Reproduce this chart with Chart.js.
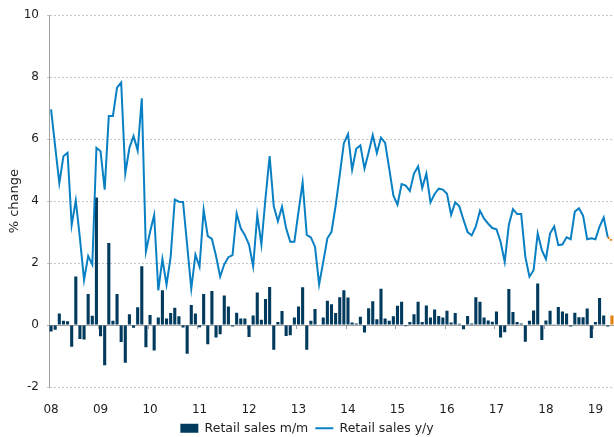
<!DOCTYPE html>
<html>
<head>
<meta charset="utf-8">
<script src="https://cdn.jsdelivr.net/npm/chart.js@4"></script>
<style>
    html, body { margin: 0; padding: 0; background: #fff; }
    .m-chart { position: relative; width: 614px; height: 437px; }
</style>
</head>
<body>
<div class="m-chart"><canvas id="myChart"></canvas></div>
<script>
// monthly, Jan 2008 .. May 2019
const months = [];
for (let y = 2008; y <= 2019; y++) {
    for (let m = 1; m <= 12; m++) {
        if (y === 2019 && m > 5) break;
        months.push(y + '-' + (m < 10 ? '0' + m : m));
    }
}
const yearLabels = ['08', '09', '10', '11', '12', '13', '14', '15', '16', '17', '18', '19'];

// Retail sales m/m (%)
const salesMoM = [
    -0.21, -0.15, 0.37, 0.14, 0.12, -0.70, 1.57, -0.45, -0.47, 1.00, 0.30, 4.12,
    -0.36, -1.30, 2.65, 0.14, 1.00, -0.55, -1.22, 0.35, -0.09, 0.57, 1.90, -0.72,
    0.32, -0.82, 0.24, 1.12, 0.21, 0.39, 0.56, 0.28, -0.08, -0.93, 0.65, 0.37,
    -0.07, 1.00, -0.62, 1.10, -0.40, -0.30, 0.95, 0.60, -0.05, 0.40, 0.21, 0.21,
    -0.39, 0.31, 1.05, 0.17, 0.84, 1.23, -0.80, 0.10, 0.45, -0.35, -0.33, 0.24,
    0.60, 1.22, -0.80, 0.14, 0.52, 0.02, 0.24, 0.78, 0.67, 0.39, 0.90, 1.12,
    0.89, 0.08, 0.05, 0.27, -0.24, 0.54, 0.77, 0.19, 1.17, 0.21, 0.14, 0.28,
    0.62, 0.75, -0.04, 0.10, 0.35, 0.75, 0.10, 0.63, 0.24, 0.50, 0.29, 0.24,
    0.46, 0.08, 0.39, 0.04, -0.14, 0.29, 0.05, 0.90, 0.75, 0.24, 0.15, 0.11,
    0.44, -0.40, -0.23, 1.16, 0.42, 0.10, 0.05, -0.54, 0.14, 0.47, 1.34, -0.48,
    0.15, 0.46, 0.01, 0.58, 0.44, 0.37, -0.05, 0.40, 0.25, 0.25, 0.53, -0.42,
    0.10, 0.87, 0.31, -0.05, 0.31
];

// Retail sales y/y (%)
const salesYoY = [
    6.96, 5.76, 4.58, 5.45, 5.56, 3.23, 4.02, 2.80, 1.45, 2.23, 1.95, 5.72,
    5.61, 4.37, 6.75, 6.75, 7.66, 7.83, 4.89, 5.72, 6.10, 5.63, 7.32, 2.37,
    3.00, 3.55, 1.12, 2.13, 1.30, 2.20, 4.05, 3.98, 3.97, 2.58, 1.17, 2.27,
    1.88, 3.72, 2.87, 2.78, 2.23, 1.56, 1.96, 2.19, 2.26, 3.60, 3.12, 2.90,
    2.60, 1.90, 3.55, 2.60, 4.10, 5.45, 3.83, 3.35, 3.82, 3.12, 2.69, 2.69,
    3.66, 4.60, 2.91, 2.83, 2.53, 1.31, 2.04, 2.80, 3.01, 3.85, 4.85, 5.87,
    6.16, 5.01, 5.69, 5.80, 5.05, 5.57, 6.13, 5.55, 6.05, 5.88, 5.05, 4.18,
    3.88, 4.55, 4.50, 4.33, 4.89, 5.12, 4.42, 4.89, 3.96, 4.23, 4.40, 4.37,
    4.24, 3.56, 3.96, 3.83, 3.40, 3.00, 2.89, 3.18, 3.69, 3.43, 3.27, 3.13,
    3.09, 2.69, 2.04, 3.23, 3.74, 3.58, 3.58, 2.20, 1.56, 1.77, 2.96, 2.42,
    2.13, 2.96, 3.18, 2.58, 2.60, 2.83, 2.77, 3.66, 3.77, 3.53, 2.77, 2.80,
    2.77, 3.18, 3.47, 2.83, 2.72
];

const NAVY = '#003a5d';
const BLUE = '#0a80c4';
const ORANGE = '#e5800f';
const TEXT = '#1e1e1e';
const FONT = "'DejaVu Sans', Verdana, sans-serif";

// small tick marks on the zero line at each new year
const yearTicks = {
    id: 'yearTicks',
    beforeDatasetsDraw(chart) {
        const ctx = chart.ctx;
        const x = chart.scales.x, y = chart.scales.y;
        const y0 = y.getPixelForValue(0);
        const half = (x.getPixelForValue(1) - x.getPixelForValue(0)) / 2;
        ctx.save();
        ctx.strokeStyle = '#a0a0a0';
        ctx.lineWidth = 1;
        months.forEach((m, i) => {
            if (!m.endsWith('-01')) return;
            const px = Math.round(x.getPixelForValue(i) - half) + 0.5;
            ctx.beginPath();
            ctx.moveTo(px, y0);
            ctx.lineTo(px, y0 + 4);
            ctx.stroke();
        });
        ctx.restore();
    }
};

// legend box takes less room so the plot can go lower
const legendHeight = {
    id: 'legendHeight',
    beforeInit(chart) {
        const fit = chart.legend.fit;
        chart.legend.fit = function () {
            fit.bind(chart.legend)();
            this.height = 22;
        };
    }
};

class CHART {
    constructor(id) {
        this.id = id;
        this.last = months.length - 1;
        this.render();
    }

    render() {
        const last = this.last;
        const ctx = document.getElementById(this.id).getContext('2d');
        new Chart(ctx, {
            type: 'bar',
            data: {
                labels: months,
                datasets: [{
                    type: 'bar',
                    label: 'Retail sales m/m',
                    data: salesMoM,
                    backgroundColor: c => c.dataIndex === last ? ORANGE : NAVY,
                    borderWidth: 0,
                    barPercentage: 0.75,
                    categoryPercentage: 1,
                    pointStyle: 'rect',
                    order: 2
                }, {
                    type: 'line',
                    label: 'Retail sales y/y',
                    data: salesYoY,
                    borderColor: BLUE,
                    backgroundColor: BLUE,
                    borderWidth: 2,
                    pointRadius: 0,
                    pointStyle: 'line',
                    tension: 0,
                    order: 1,
                    segment: {
                        borderColor: c => c.p1DataIndex === last ? ORANGE : undefined,
                        borderDash: c => c.p1DataIndex === last ? [2, 1] : undefined
                    }
                }]
            },
            options: {
                responsive: true,
                maintainAspectRatio: false,
                animation: false,
                layout: { padding: { top: 11, right: 0, left: 0, bottom: 0 } },
                plugins: {
                    tooltip: { enabled: false },
                    legend: {
                        position: 'bottom',
                        labels: {
                            usePointStyle: true,
                            pointStyleWidth: 18,
                            boxHeight: 9,
                            padding: 7,
                            color: TEXT,
                            font: { family: FONT, size: 12.5 },
                            sort: (a, b) => a.datasetIndex - b.datasetIndex
                        }
                    }
                },
                scales: {
                    x: {
                        offset: true,
                        afterFit: s => {
                            s.height = 28;
                            s.paddingLeft = 0;
                            s.paddingRight = 0;
                        },
                        grid: { display: false, drawTicks: false },
                        border: { display: false },
                        ticks: {
                            autoSkip: false,
                            maxRotation: 0,
                            sampleSize: 137,
                            maxTicksLimit: 200,
                            padding: 16,
                            color: TEXT,
                            font: { family: FONT, size: 12 },
                            callback: (v, i) => months[i].endsWith('-01') ? yearLabels[Math.floor(i / 12)] : ''
                        }
                    },
                    y: {
                        min: -2,
                        max: 10,
                        afterFit: s => { s.width = 49; },
                        ticks: {
                            stepSize: 2,
                            padding: 8,
                            color: TEXT,
                            font: { family: FONT, size: 12 }
                        },
                        grid: {
                            color: c => c.tick && c.tick.value === 0 ? '#a0a0a0' : '#c4c4c4',
                            tickLength: 2
                        },
                        border: {
                            color: '#a0a0a0',
                            dash: c => c.tick && c.tick.value === 0 ? [] : [2, 2]
                        },
                        title: {
                            display: true,
                            text: '% change',
                            color: TEXT,
                            font: { family: FONT, size: 13 },
                            padding: { top: 7, bottom: 0 }
                        }
                    }
                }
            },
            plugins: [yearTicks, legendHeight]
        });
    }
}

window.addEventListener('load', function () {
    new CHART('myChart');
});
</script>
</body>
</html>
